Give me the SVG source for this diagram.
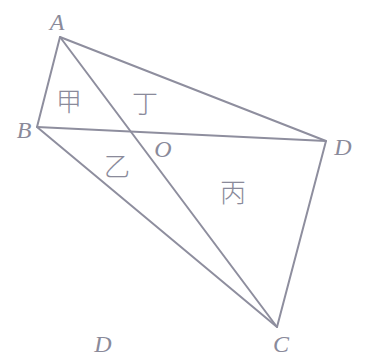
<svg xmlns="http://www.w3.org/2000/svg" width="368" height="358" viewBox="0 0 368 358">
<style>
.ln{stroke:#8e8e9e;stroke-width:2;fill:none;stroke-linecap:round;stroke-linejoin:round}
.lb{font-family:"Liberation Serif",serif;font-style:italic;font-size:24px;fill:#8a8a9a}
.cj{font-family:"Noto Sans CJK SC",sans-serif;font-size:26px;font-weight:300;fill:#8a8a9a}
</style>
<rect width="368" height="358" fill="#ffffff"/>
<g id="connectors">
<path class="ln" d="M60 37 L37 127 L277 327 L326 141 Z"/>
<path class="ln" d="M60 37 L277 327"/>
<path class="ln" d="M37 127 L326 141"/>
</g>
<g id="A"><text class="lb" x="57" y="30" text-anchor="middle">A</text></g>
<g id="B"><text class="lb" x="24" y="138" text-anchor="middle">B</text></g>
<g id="O"><text class="lb" x="163" y="157" text-anchor="middle">O</text></g>
<g id="D"><text class="lb" x="343" y="155" text-anchor="middle">D</text></g>
<g id="C"><text class="lb" x="281" y="352" text-anchor="middle">C</text></g>
<g id="D2"><text class="lb" x="103" y="352" text-anchor="middle">D</text></g>
<g id="jia"><text class="cj" x="69" y="111" text-anchor="middle">甲</text></g>
<g id="ding"><text class="cj" x="145" y="113" text-anchor="middle">丁</text></g>
<g id="yi"><text class="cj" x="117" y="176" text-anchor="middle">乙</text></g>
<g id="bing"><text class="cj" x="233" y="202" text-anchor="middle">丙</text></g>
</svg>
